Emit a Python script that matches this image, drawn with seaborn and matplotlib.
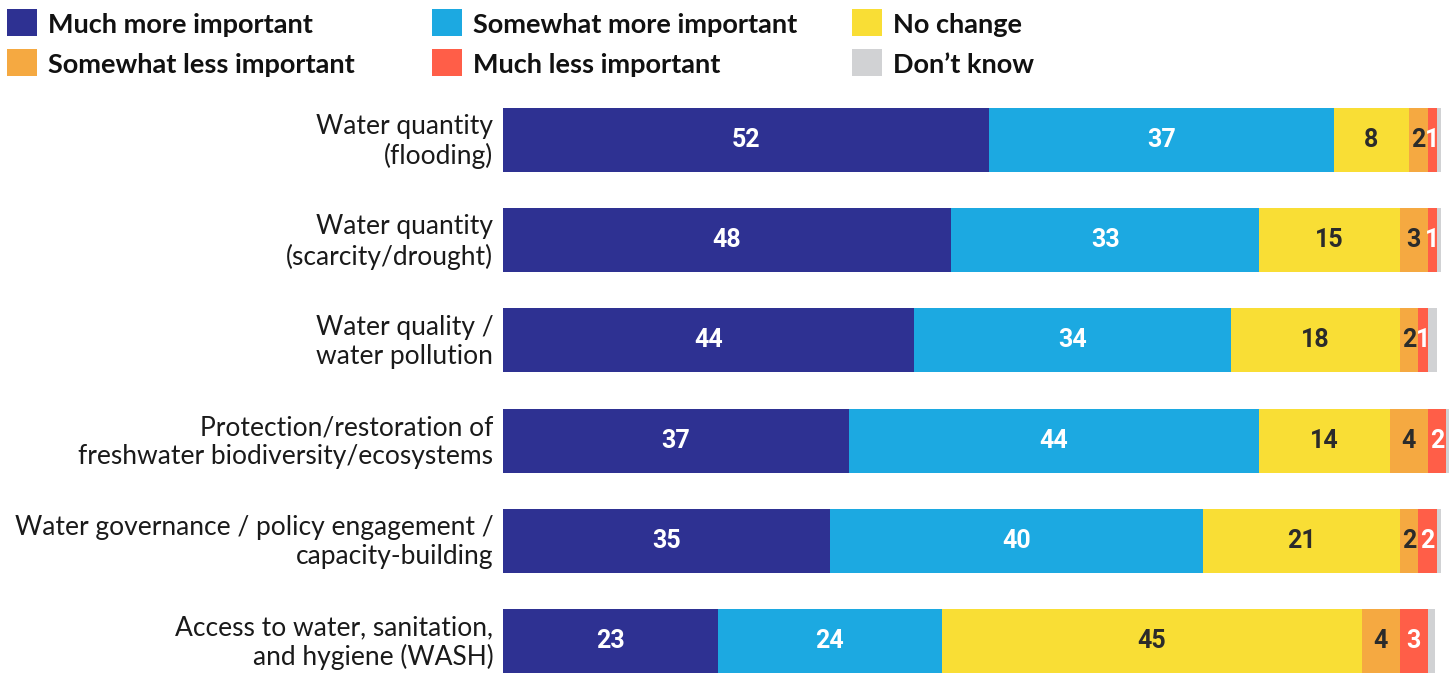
import numpy as np
import pandas as pd
import matplotlib
matplotlib.use("Agg")
import matplotlib.pyplot as plt
from matplotlib.patches import Rectangle
from matplotlib.transforms import ScaledTranslation
import seaborn as sns

categories = [
    "Water quantity\n(flooding)",
    "Water quantity\n(scarcity/drought)",
    "Water quality /\nwater pollution",
    "Protection/restoration of\nfreshwater biodiversity/ecosystems",
    "Water governance / policy engagement /\ncapacity-building",
    "Access to water, sanitation,\nand hygiene (WASH)",
]
series_names = [
    "Much more important",
    "Somewhat more important",
    "No change",
    "Somewhat less important",
    "Much less important",
    "Don\u2019t know",
]
much_more = [52, 48, 44, 37, 35, 23]
somewhat_more = [37, 33, 34, 44, 40, 24]
no_change = [8, 15, 18, 14, 21, 45]
somewhat_less = [2, 3, 2, 4, 2, 4]
much_less = [1, 1, 1, 2, 2, 3]
dont_know = [0.4, 0.4, 1.0, 0.3, 0.4, 0.8]

colors = ["#2E3192", "#1CA9E1", "#F9DE35", "#F5A941", "#FF5E48", "#D1D2D4"]
label_colors = ["white", "white", "#2B2B2B", "#2B2B2B", "white", None]

sns.set_theme(style="white")
plt.rcParams["font.family"] = ["Lato", "DejaVu Sans"]

W, H = 1450, 673
values = np.array([much_more, somewhat_more, no_change, somewhat_less, much_less, dont_know], dtype=float)
cum = np.cumsum(values, axis=0)

fig = plt.figure(figsize=(W / 100, H / 100), dpi=100)
ax = fig.add_axes([503 / W, 0, (1449 - 503) / W, (H - 108) / H])

# stacked bars: draw cumulative totals from the outermost segment inwards
for i in range(len(series_names) - 1, -1, -1):
    df = pd.DataFrame({"category": categories, "value": cum[i]})
    sns.barplot(data=df, y="category", x="value", order=categories, orient="h",
                color=colors[i], width=0.64, saturation=1, ax=ax, linewidth=0)

for i in range(len(series_names)):
    if label_colors[i] is None:
        continue
    for j in range(len(categories)):
        start = cum[i][j] - values[i][j]
        ax.text(start + values[i][j] / 2, j, f"{values[i][j]:g}", ha="center", va="center",
                color=label_colors[i], fontsize=18, fontweight="bold",
                family=["Roboto", "DejaVu Sans"])

ax.set_xlim(0, cum[-1].max())
ax.set_ylim(len(categories) - 1 + 0.32, -0.32)
ax.set_xlabel("")
ax.set_ylabel("")
ax.set_xticks([])
ax.tick_params(axis="y", length=0, pad=7, labelsize=19)
shift = ScaledTranslation(0, 3 / 100, fig.dpi_scale_trans)
for lbl in ax.get_yticklabels():
    lbl.set_horizontalalignment("right")
    lbl.set_multialignment("right")
    lbl.set_color("#1a1a1a")
    lbl.set_transform(lbl.get_transform() + shift)
sns.despine(ax=ax, left=True, bottom=True)

# legend: three columns, two rows of colour swatches with bold labels
col_x = [7, 432, 852]
row_y = [9, 49]
order = [0, 3, 1, 4, 2, 5]
for n, k in enumerate(order):
    x0 = col_x[n // 2]
    y0 = row_y[n % 2]
    fig.add_artist(Rectangle((x0 / W, 1 - (y0 + 27) / H), 30 / W, 27 / H,
                             transform=fig.transFigure, facecolor=colors[k],
                             edgecolor="none"))
    fig.text((x0 + 41) / W, 1 - (y0 + 16) / H, series_names[k], ha="left",
             va="center", fontsize=19.5, fontweight="bold", color="#111111")

fig.savefig("out.png", dpi=100)
